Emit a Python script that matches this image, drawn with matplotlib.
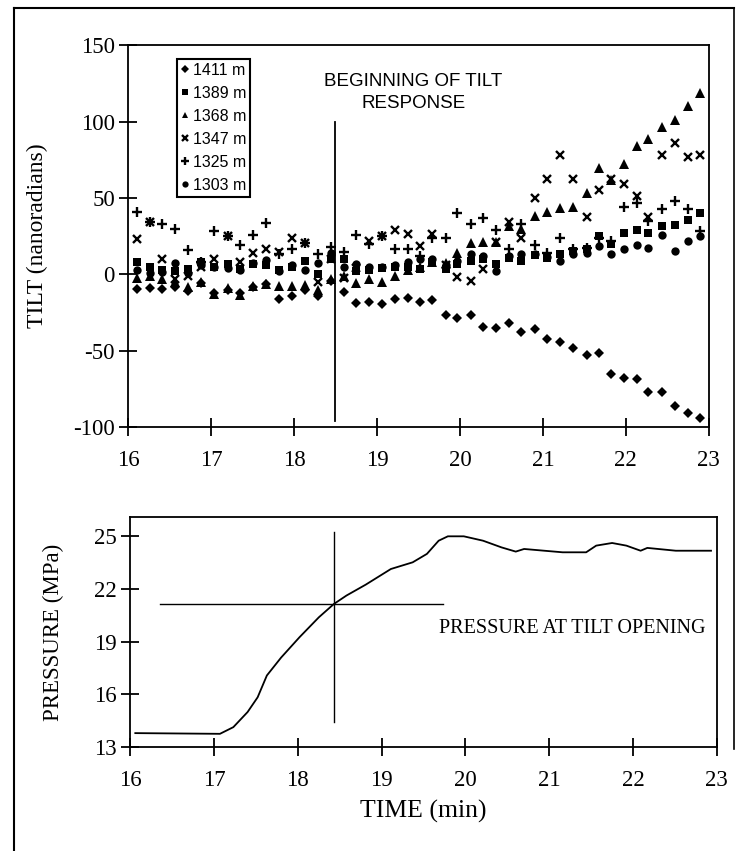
"""
Tilt response vs. injection pressure: tiltmeter records at six depths (top)
and wellbore pressure (bottom) over the same time window.

Saves out.png
"""
import matplotlib
matplotlib.use("Agg")
import matplotlib.pyplot as plt
from matplotlib.lines import Line2D

plt.rcParams["axes.unicode_minus"] = False
SERIF = "Liberation Serif"
SANS = "Liberation Sans"

# --- tilt data (nanoradians) ---
time_tilt = [16.11, 16.26, 16.41, 16.57, 16.72, 16.88, 17.04, 17.20, 17.35, 17.51,
             17.66, 17.82, 17.98, 18.13, 18.29, 18.45, 18.60, 18.75, 18.90, 19.06,
             19.22, 19.37, 19.52, 19.66, 19.83, 19.97, 20.13, 20.28, 20.44, 20.59,
             20.74, 20.90, 21.05, 21.21, 21.36, 21.53, 21.68, 21.82, 21.98, 22.13,
             22.27, 22.44, 22.59, 22.75, 22.90]

tilt_1411 = [-9.4, -8.7, -9.8, -8.5, -10.9, -5.9, -12, -10, -12, -8,
             -6, -16.3, -14.2, -10, -14.2, -4.4, -11.3, -18.5, -17.9, -19.2,
             -15.9, -15.3, -18.1, -16.8, -26.6, -28.8, -26.6, -34.2, -35.3, -31.6,
             -37.5, -35.5, -42.5, -44, -48, -53, -51.6, -65.4, -67.5, -68.2,
             -76.9, -76.9, -86, -90.4, -94.1]
tilt_1389 = [8.3, 5, 3, 2.2, 3.7, 8, 5, 6.5, 3.7, 7,
             6, 3, 5, 8.7, 0, 10.2, 9.8, 2, 3, 4,
             5, 5, 3.3, 8, 3.3, 7, 9, 9.8, 6.5, 11,
             8.7, 12.4, 11, 13, 15, 16.3, 25, 20, 27.2, 29,
             26.9, 31.6, 32.2, 35.5, 39.9]
tilt_1368 = [-2.2, -1, -3, -5, -8, -5, -13.1, -8.7, -13.5, -7.6,
             -6.5, -7.6, -7.6, -7.2, -10, -3, -1, -5.4, -3, -4.8,
             -1.1, 3, 5, 8, 7.6, 14.1, 20.7, 21.4, 21.4, 31.6,
             29.4, 38.1, 40.7, 43.1, 44.2, 53.4, 69.7, 62, 71.9, 84.3,
             88.7, 96.5, 100.9, 110, 118.8]
tilt_1347 = [22.9, 34.2, 10.2, -3.3, -1.1, 5, 9.8, 25, 8, 13.7,
             16.3, 14.6, 24, 20.7, -5, 10, -2.2, 4, 22, 25,
             28.8, 26.1, 18.5, 26.1, 6, -1.5, -4.4, 3.3, 21, 34.2,
             24, 50.1, 62.1, 77.8, 62.5, 37.5, 55.1, 62.1, 58.8, 51.2,
             37.3, 77.8, 86.1, 76.7, 77.8]
tilt_1325 = [40.7, 34.2, 32.7, 29.8, 15.7, 8, 28.3, 25, 19, 26,
             33.3, 13, 16.3, 20.7, 13, 18.1, 14.6, 25.5, 19.6, 25,
             16.3, 16.3, 12, 24, 24, 40, 32.7, 36.6, 29, 16.8,
             32.7, 19, 14, 24, 16.3, 17, 24, 22, 44, 47,
             34.8, 42.5, 47.9, 42.5, 28.3]
tilt_1303 = [3, 1, 1.5, 7.6, 1, 6, 5, 4, 3, 7.6,
             9.3, 2, 5.9, 2.8, 7.6, 13.7, 5, 6.5, 5, 5,
             6, 8, 10.2, 9.8, 6, 8.7, 13, 12, 2.2, 12,
             13, 13, 11.5, 8.7, 13, 14.1, 18.5, 13.5, 16.3, 19.2,
             17, 25.5, 15, 21.8, 25]

series = [
    ("1411 m", tilt_1411, "D", 5.5),
    ("1389 m", tilt_1389, "s", 5.5),
    ("1368 m", tilt_1368, "^", 6.5),
    ("1347 m", tilt_1347, "x", 6.0),
    ("1325 m", tilt_1325, "+", 7.0),
    ("1303 m", tilt_1303, "o", 6.0),
]

# --- pressure data (MPa) ---
time_press = [16.06, 17.07, 17.23, 17.40, 17.52, 17.63, 17.80, 18.02, 18.25, 18.43,
              18.58, 18.81, 19.11, 19.37, 19.54, 19.68, 19.79, 19.98, 20.21, 20.43,
              20.60, 20.70, 20.94, 21.16, 21.44, 21.56, 21.75, 21.92, 22.09, 22.17,
              22.51, 22.93]
pressure = [13.8, 13.76, 14.14, 15.0, 15.84, 17.08, 18.1, 19.26, 20.39, 21.15,
            21.63, 22.25, 23.14, 23.52, 24.0, 24.75, 25.0, 25.0, 24.75, 24.37,
            24.13, 24.28, 24.18, 24.09, 24.09, 24.47, 24.62, 24.47, 24.18, 24.34,
            24.18, 24.18]

tilt_onset = 18.5
press_onset_t = 18.43
press_onset_p = 21.15

fig = plt.figure(figsize=(7.36, 8.51), dpi=100)

# ---------------- top panel: tilt ----------------
ax1 = fig.add_axes([0.174, 0.498, 0.789, 0.449])
for label, vals, mk, ms in series:
    kw = dict(markeredgewidth=1.7) if mk in ("x", "+") else dict(markeredgewidth=0)
    ax1.plot(time_tilt, vals, linestyle="none", marker=mk, markersize=ms,
             color="black", label=label, **kw)
ax1.plot([tilt_onset, tilt_onset], [-96, 100], color="black", linewidth=1.3)
ax1.text(19.44, 119, "BEGINNING OF TILT\nRESPONSE", ha="center", va="center",
         fontsize=13.5, family=SANS, linespacing=1.35)
ax1.set_xlim(16, 23)
ax1.set_ylim(-100, 150)
ax1.set_xticks(range(16, 24))
ax1.set_yticks([-100, -50, 0, 50, 100, 150])
ax1.set_ylabel("TILT (nanoradians)", family=SERIF, fontsize=17, labelpad=18)
leg = ax1.legend(loc="upper left", bbox_to_anchor=(0.084, 0.964), frameon=True,
                 fancybox=False, edgecolor="black", framealpha=1,
                 prop={"family": SANS, "size": 11.5}, handlelength=0.5,
                 handletextpad=0.25, labelspacing=0.5, borderpad=0.25,
                 borderaxespad=0, markerscale=0.75)
leg.get_frame().set_linewidth(1.5)

# ---------------- bottom panel: pressure ----------------
ax2 = fig.add_axes([0.177, 0.122, 0.797, 0.2705])
ax2.plot(time_press, pressure, color="black", linewidth=1.3)
ax2.plot([press_onset_t, press_onset_t], [14.42, 25.23], color="black", linewidth=1.0)
ax2.plot([16.36, 19.73], [press_onset_p, press_onset_p], color="black", linewidth=1.0)
ax2.text(19.69, 19.73, "PRESSURE AT TILT OPENING", ha="left", va="center",
         fontsize=14.5, family=SERIF)
ax2.set_xlim(16, 23)
ax2.set_ylim(13, 26.1)
ax2.set_xticks(range(16, 24))
ax2.set_yticks([13, 16, 19, 22, 25])
ax2.set_xlabel("TIME (min)", family=SERIF, fontsize=18.5, labelpad=6)
ax2.set_ylabel("PRESSURE (MPa)", family=SERIF, fontsize=16.5, labelpad=22)

for ax in (ax1, ax2):
    for sp in ax.spines.values():
        sp.set_linewidth(1.3)
    ax.tick_params(direction="inout", length=13, width=1.3, labelsize=16.5,
                   pad=3)
    ax.tick_params(axis="x", pad=10)
    for lab in ax.get_xticklabels() + ax.get_yticklabels():
        lab.set_family(SERIF)

# page frame of the scanned figure
fig.add_artist(Line2D([0.019, 0.019], [0.0, 0.991], color="black", linewidth=1.5,
                      transform=fig.transFigure))
fig.add_artist(Line2D([0.019, 0.997], [0.991, 0.991], color="black", linewidth=1.5,
                      transform=fig.transFigure))
fig.add_artist(Line2D([0.997, 0.997], [0.991, 0.12], color="black", linewidth=1.2,
                      transform=fig.transFigure))

fig.savefig("out.png", dpi=100, facecolor="white")
